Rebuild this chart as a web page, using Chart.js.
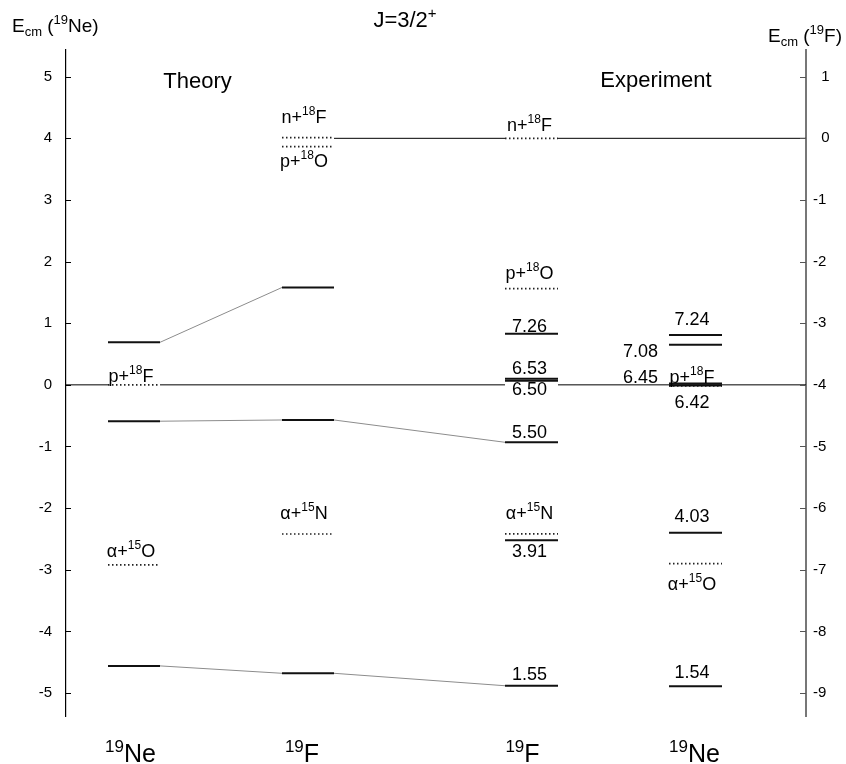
<!DOCTYPE html>
<html>
<head>
<meta charset="utf-8">
<script src="https://cdn.jsdelivr.net/npm/chart.js@4.4.1/dist/chart.umd.min.js"></script>
<style>
  html, body { margin: 0; padding: 0; background: #fff; }
  #wrap { width: 846px; height: 764px; }
</style>
</head>
<body>
<div id="wrap"><canvas id="c" width="846" height="764"></canvas></div>
<script>
// ---------- data (MeV) ----------
// Theory, 19Ne: E_cm relative to the p+18F threshold
const theoryNeLevels = [0.69, -0.59, -4.56];
const theoryNeThresholds = [0.0, -2.92];
const theoryNeThresholdNames = ['p+^{18}F', 'α+^{15}O'];

// Theory, 19F: E_cm relative to the n+18F threshold
const theoryFLevels = [-2.42, -4.57, -8.68];
const theoryFThresholds = [0.01, -0.135, -6.42];
const theoryFThresholdNames = ['n+^{18}F', 'p+^{18}O', 'α+^{15}N'];

// Experiment, 19F: excitation energies and thresholds
const expFLevels = [7.26, 6.53, 6.50, 5.50, 3.91, 1.55];
const expFThresholds = [10.432, 7.994, 4.014];
const expFThresholdNames = ['n+^{18}F', 'p+^{18}O', 'α+^{15}N'];
const expFSeparation = 10.432;

// Experiment, 19Ne: excitation energies and thresholds
const expNeLevels = [7.24, 7.08, 6.45, 6.42, 4.03, 1.54];
const expNeThresholds = [6.411, 3.529];
const expNeThresholdNames = ['p+^{18}F', 'α+^{15}O'];
const expNeSeparation = 6.43;

// correspondences: [theory 19Ne index, theory 19F index, experiment 19F index or null]
const links = [[0, 0, null], [1, 1, 3], [2, 2, 5]];

// axis ticks
const leftTicks = [5, 4, 3, 2, 1, 0, -1, -2, -3, -4, -5];
const rightTicks = [1, 0, -1, -2, -3, -4, -5, -6, -7, -8, -9];
const nucleusNames = ['^{19}Ne', '^{19}F', '^{19}F', '^{19}Ne'];

// ---------- layout ----------
const FONT = '"Liberation Sans", Arial, Helvetica, sans-serif';
const frameShift = 4;              // E_cm(19F) axis = E_cm(19Ne) axis - 4
const yMin = -5.373, yMax = 5.433;
const cols = [[42, 94], [216, 268], [439, 492], [603, 656]];   // x extents of the four columns
const labelX = [65, 238, 463.5, 626];                           // text centres per column
const bottomX = [64.5, 236, 456.5, 628.5];

const theoryNeThrDy = [-3, -8];
const theoryFThrDy = [-15, 20, -15];
const expFLevelDy = [-2, -4.5, 14, -4.5, 17, -6];
const expFThrDy = [-7.5, -10, -15];
const expNeLevelDy = [-10, 12, -1, 22.5, -11, -8];
const expNeLevelSide = ['c', 'l', 'l', 'c', 'c', 'c'];
const expNeThrDy = [-3, 26];

// conversions onto the left (19Ne) value axis
const fromF = v => v + frameShift;
const expF = e => fromF(e - expFSeparation);
const expNe = e => e - expNeSeparation;

const STY = {
  level: { borderColor: '#111', borderWidth: 2 },
  thr: { borderColor: '#222', borderWidth: 1.7, borderDash: [1.5, 2.5] },
  link: { borderColor: '#8c8c8c', borderWidth: 1 },
  ref: { borderColor: '#000', borderWidth: 1 }
};

function seg(x0, x1, y0, y1, style) {
  return Object.assign({ data: [{ x: x0, y: y0 }, { x: x1, y: y1 }], showLine: true, pointRadius: 0, fill: false }, style);
}

const datasets = [];
// reference lines (threshold energies) drawn between the columns
datasets.push(seg(0, cols[0][0], 0, 0, STY.ref));
datasets.push(seg(cols[0][1], cols[2][0], 0, 0, STY.ref));
datasets.push(seg(cols[2][1], 740, 0, 0, STY.ref));
datasets.push(seg(cols[1][1], cols[2][0], fromF(0), fromF(0), STY.ref));
datasets.push(seg(cols[2][1], 740, fromF(0), fromF(0), STY.ref));

// theory 19Ne
theoryNeLevels.forEach(v => datasets.push(seg(cols[0][0], cols[0][1], v, v, STY.level)));
theoryNeThresholds.forEach(v => datasets.push(seg(cols[0][0], cols[0][1], v, v, STY.thr)));
// theory 19F
theoryFLevels.forEach(v => datasets.push(seg(cols[1][0], cols[1][1], fromF(v), fromF(v), STY.level)));
theoryFThresholds.forEach(v => datasets.push(seg(cols[1][0], cols[1][1], fromF(v), fromF(v), STY.thr)));
// experiment 19F
expFLevels.forEach(e => datasets.push(seg(cols[2][0], cols[2][1], expF(e), expF(e), STY.level)));
expFThresholds.forEach(e => datasets.push(seg(cols[2][0], cols[2][1], expF(e), expF(e), STY.thr)));
// experiment 19Ne
expNeLevels.forEach(e => datasets.push(seg(cols[3][0], cols[3][1], expNe(e), expNe(e), STY.level)));
expNeThresholds.forEach(e => datasets.push(seg(cols[3][0], cols[3][1], expNe(e), expNe(e), STY.thr)));

// connecting lines between corresponding states
links.forEach(([a, b, c]) => {
  const yA = theoryNeLevels[a], yB = fromF(theoryFLevels[b]);
  datasets.push(seg(cols[0][1], cols[1][0], yA, yB, STY.link));
  if (c !== null) datasets.push(seg(cols[1][1], cols[2][0], yB, expF(expFLevels[c]), STY.link));
});

// ---------- rich text (super/subscripts) ----------
function parseRich(s) {
  const out = [];
  const re = /([\^_])\{([^}]*)\}|([^\^_]+)/g;
  let m;
  while ((m = re.exec(s))) {
    if (m[1]) out.push({ t: m[2], k: m[1] === '^' ? 'sup' : 'sub' });
    else out.push({ t: m[3], k: 'n' });
  }
  return out;
}
function drawRich(ctx, s, x, y, size, align) {
  const segs = parseRich(s);
  const small = Math.round(size * 0.66);
  let total = 0;
  segs.forEach(g => {
    ctx.font = (g.k === 'n' ? size : small) + 'px ' + FONT;
    g.w = ctx.measureText(g.t).width;
    total += g.w;
  });
  let cx = align === 'center' ? x - total / 2 : align === 'right' ? x - total : x;
  ctx.textAlign = 'left';
  ctx.textBaseline = 'alphabetic';
  segs.forEach(g => {
    ctx.font = (g.k === 'n' ? size : small) + 'px ' + FONT;
    const dy = g.k === 'sup' ? -size * 0.42 : g.k === 'sub' ? size * 0.2 : 0;
    ctx.fillText(g.t, cx, y + dy);
    cx += g.w;
  });
}

const annotations = {
  id: 'annotations',
  afterDraw(chart) {
    const ctx = chart.ctx;
    const xs = chart.scales.x, ys = chart.scales.y, y2 = chart.scales.y2;
    const px = v => xs.getPixelForValue(v);
    const py = v => ys.getPixelForValue(v);
    ctx.save();
    ctx.fillStyle = '#000';

    // inward tick marks
    ctx.lineWidth = 1;
    ctx.strokeStyle = '#000';
    ys.ticks.forEach(t => {
      const y = Math.round(ys.getPixelForValue(t.value)) + 0.5;
      ctx.beginPath(); ctx.moveTo(ys.right, y); ctx.lineTo(ys.right + 5, y); ctx.stroke();
    });
    ctx.strokeStyle = '#555';
    y2.ticks.forEach(t => {
      const y = Math.round(y2.getPixelForValue(t.value)) + 0.5;
      ctx.beginPath(); ctx.moveTo(y2.left - 6, y); ctx.lineTo(y2.left, y); ctx.stroke();
    });

    // headings
    drawRich(ctx, 'E_{cm} (^{19}Ne)', 12, 32, 19, 'left');
    drawRich(ctx, 'E_{cm} (^{19}F)', 768, 42, 19, 'left');
    drawRich(ctx, 'J=3/2^{+}', 405, 27, 22, 'center');
    drawRich(ctx, 'Theory', px(131.5), 88, 22, 'center');
    drawRich(ctx, 'Experiment', px(590), 87, 22, 'center');

    // theory thresholds
    theoryNeThresholds.forEach((v, i) =>
      drawRich(ctx, theoryNeThresholdNames[i], px(labelX[0]), py(v) + theoryNeThrDy[i], 18, 'center'));
    theoryFThresholds.forEach((v, i) =>
      drawRich(ctx, theoryFThresholdNames[i], px(labelX[1]), py(fromF(v)) + theoryFThrDy[i], 18, 'center'));

    // experiment 19F
    expFLevels.forEach((e, i) =>
      drawRich(ctx, e.toFixed(2), px(labelX[2]), py(expF(e)) + expFLevelDy[i], 18, 'center'));
    expFThresholds.forEach((e, i) =>
      drawRich(ctx, expFThresholdNames[i], px(labelX[2]), py(expF(e)) + expFThrDy[i], 18, 'center'));

    // experiment 19Ne
    expNeLevels.forEach((e, i) => {
      const y = py(expNe(e)) + expNeLevelDy[i];
      if (expNeLevelSide[i] === 'l') drawRich(ctx, e.toFixed(2), px(cols[3][0]) - 11, y, 18, 'right');
      else drawRich(ctx, e.toFixed(2), px(labelX[3]), y, 18, 'center');
    });
    expNeThresholds.forEach((e, i) =>
      drawRich(ctx, expNeThresholdNames[i], px(labelX[3]), py(expNe(e)) + expNeThrDy[i], 18, 'center'));

    // nucleus names under the columns
    nucleusNames.forEach((n, i) => drawRich(ctx, n, px(bottomX[i]), 762, 25, 'center'));

    ctx.restore();
  }
};

new Chart(document.getElementById('c'), {
  type: 'scatter',
  data: { datasets },
  options: {
    responsive: false,
    animation: false,
    events: [],
    layout: { padding: { top: 50, bottom: 48, left: 0, right: 0 } },
    plugins: { legend: { display: false }, tooltip: { enabled: false }, title: { display: false } },
    elements: { point: { radius: 0 }, line: { tension: 0, borderCapStyle: 'butt' } },
    scales: {
      x: { type: 'linear', display: false, min: 0, max: 740 },
      y: {
        type: 'linear', position: 'left', min: yMin, max: yMax,
        afterFit(s) { s.width = 66; },
        afterBuildTicks(s) { s.ticks = leftTicks.map(v => ({ value: v })); },
        grid: { drawOnChartArea: false, drawTicks: false },
        border: { display: true, color: '#000', width: 1.2 },
        ticks: { padding: 14, color: '#000', font: { family: FONT, size: 15 } }
      },
      y2: {
        type: 'linear', position: 'right', min: yMin - frameShift, max: yMax - frameShift,
        afterFit(s) { s.width = 40; },
        afterBuildTicks(s) { s.ticks = rightTicks.map(v => ({ value: v })); },
        grid: { drawOnChartArea: false, drawTicks: false },
        border: { display: true, color: '#777', width: 2 },
        ticks: {
          padding: 7, color: '#000', font: { family: FONT, size: 15 },
          callback: v => (v >= 0 ? '  ' + v : String(v))
        }
      }
    }
  },
  plugins: [annotations]
});
</script>
</body>
</html>
